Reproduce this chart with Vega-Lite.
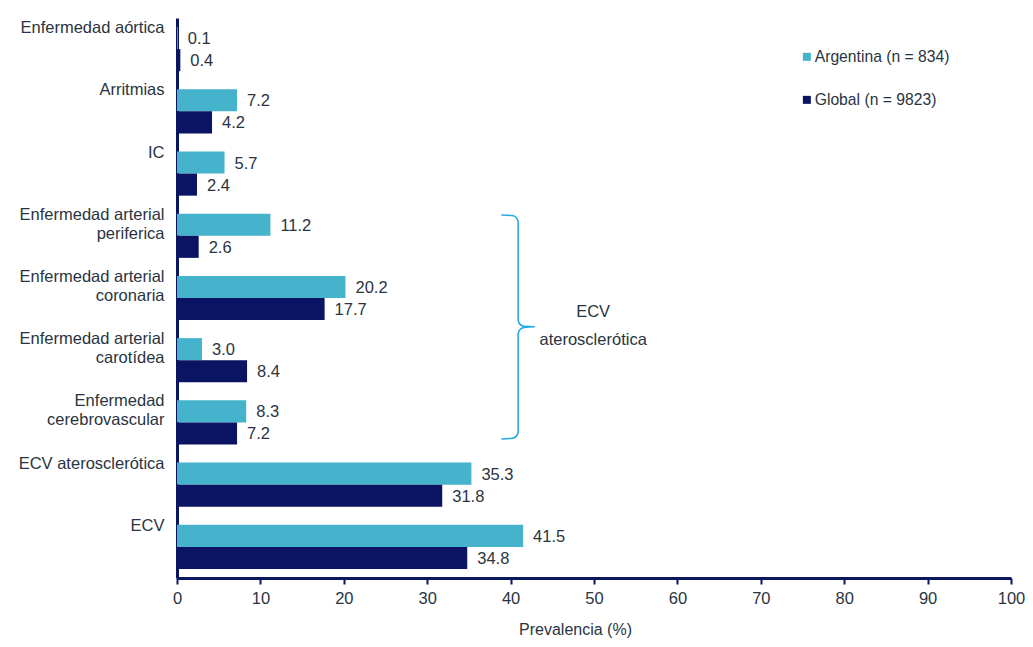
{
  "$schema": "https://vega.github.io/schema/vega-lite/v6.json",
  "width": 834,
  "height": 560,
  "autosize": {"type": "none"},
  "padding": {"left": 177, "top": 18, "right": 22, "bottom": 69},
  "background": "white",
  "config": {
    "view": {"stroke": null},
    "font": "Liberation Sans",
    "axis": {"grid": false, "labelFontSize": 16.5, "labelColor": "#2a3440", "titleFontSize": 16, "titleFontWeight": "normal", "titleColor": "#2a3440"}
  },
  "datasets": {
    "prevalencia": [
      {"categoria": "Enfermedad aórtica", "grupo": "Argentina (n = 834)", "valor": 0.1},
      {"categoria": "Enfermedad aórtica", "grupo": "Global (n = 9823)", "valor": 0.4},
      {"categoria": "Arritmias", "grupo": "Argentina (n = 834)", "valor": 7.2},
      {"categoria": "Arritmias", "grupo": "Global (n = 9823)", "valor": 4.2},
      {"categoria": "IC", "grupo": "Argentina (n = 834)", "valor": 5.7},
      {"categoria": "IC", "grupo": "Global (n = 9823)", "valor": 2.4},
      {"categoria": "Enfermedad arterial|periferica", "grupo": "Argentina (n = 834)", "valor": 11.2},
      {"categoria": "Enfermedad arterial|periferica", "grupo": "Global (n = 9823)", "valor": 2.6},
      {"categoria": "Enfermedad arterial|coronaria", "grupo": "Argentina (n = 834)", "valor": 20.2},
      {"categoria": "Enfermedad arterial|coronaria", "grupo": "Global (n = 9823)", "valor": 17.7},
      {"categoria": "Enfermedad arterial|carotídea", "grupo": "Argentina (n = 834)", "valor": 3.0},
      {"categoria": "Enfermedad arterial|carotídea", "grupo": "Global (n = 9823)", "valor": 8.4},
      {"categoria": "Enfermedad|cerebrovascular", "grupo": "Argentina (n = 834)", "valor": 8.3},
      {"categoria": "Enfermedad|cerebrovascular", "grupo": "Global (n = 9823)", "valor": 7.2},
      {"categoria": "ECV aterosclerótica", "grupo": "Argentina (n = 834)", "valor": 35.3},
      {"categoria": "ECV aterosclerótica", "grupo": "Global (n = 9823)", "valor": 31.8},
      {"categoria": "ECV", "grupo": "Argentina (n = 834)", "valor": 41.5},
      {"categoria": "ECV", "grupo": "Global (n = 9823)", "valor": 34.8}
    ],
    "llave": [
      {"o": 1, "bx": 38.9, "pos": 3.166},
      {"o": 2, "bx": 40.2, "pos": 3.175},
      {"o": 3, "bx": 40.7, "pos": 3.21},
      {"o": 4, "bx": 40.9, "pos": 3.27},
      {"o": 5, "bx": 40.9, "pos": 4.85},
      {"o": 6, "bx": 41.1, "pos": 4.92},
      {"o": 7, "bx": 41.6, "pos": 4.955},
      {"o": 8, "bx": 42.9, "pos": 4.962},
      {"o": 9, "bx": 41.6, "pos": 4.975},
      {"o": 10, "bx": 41.1, "pos": 5.01},
      {"o": 11, "bx": 40.9, "pos": 5.08},
      {"o": 12, "bx": 40.9, "pos": 6.66},
      {"o": 13, "bx": 40.7, "pos": 6.72},
      {"o": 14, "bx": 40.2, "pos": 6.755},
      {"o": 15, "bx": 38.9, "pos": 6.765}
    ],
    "rotulo": [
      {"bx": 49.9, "pos": 4.72, "t": "ECV"},
      {"bx": 49.9, "pos": 5.175, "t": "aterosclerótica"}
    ]
  },
  "layer": [
    {
      "data": {"name": "prevalencia"},
      "encoding": {
        "y": {
          "field": "categoria", "type": "nominal", "sort": null,
          "scale": {"paddingInner": 0.29, "paddingOuter": 0.145},
          "axis": {
            "title": null, "ticks": false, "domainColor": "#0b1660", "domainWidth": 3,
            "labelPadding": 13, "labelBaseline": "top", "labelOffset": -29, "labelLineHeight": 19,
            "labelLimit": 300, "labelExpr": "split(datum.label, '|')"
          }
        },
        "yOffset": {"field": "grupo", "type": "nominal", "sort": null, "scale": {"paddingInner": 0}},
        "x": {
          "field": "valor", "type": "quantitative",
          "scale": {"domain": [0, 100], "nice": false},
          "axis": {
            "title": "Prevalencia (%)", "values": [0, 10, 20, 30, 40, 50, 60, 70, 80, 90, 100],
            "domainColor": "#0b1660", "domainWidth": 3, "tickColor": "#0b1660", "tickWidth": 2, "tickSize": 6,
            "labelFlush": false, "labelPadding": 6, "titlePadding": 15, "titleX": 398, "titleAlign": "center"
          }
        }
      },
      "layer": [
        {
          "mark": {"type": "bar"},
          "encoding": {
            "color": {
              "field": "grupo", "type": "nominal",
              "scale": {"domain": ["Argentina (n = 834)", "Global (n = 9823)"], "range": ["#45b3cb", "#0a1462"]},
              "legend": {
                "orient": "none", "legendX": 622, "legendY": 31, "title": null,
                "symbolType": "square", "symbolSize": 64, "symbolStrokeWidth": 0,
                "labelFontSize": 15.7, "labelColor": "#2a3440", "labelOffset": 0,
                "rowPadding": 26, "padding": 0
              }
            }
          }
        },
        {
          "mark": {"type": "text", "align": "left", "baseline": "middle", "dx": 10, "dy": 1, "fontSize": 16.5, "color": "#2a3440"},
          "encoding": {"text": {"field": "valor", "type": "quantitative", "format": ".1f"}}
        }
      ]
    },
    {
      "encoding": {
        "x": {
          "field": "bx", "type": "quantitative", "scale": {"domain": [0, 100], "nice": false},
          "axis": {
            "title": "Prevalencia (%)", "values": [0, 10, 20, 30, 40, 50, 60, 70, 80, 90, 100],
            "domainColor": "#0b1660", "domainWidth": 3, "tickColor": "#0b1660", "tickWidth": 2, "tickSize": 6,
            "labelFlush": false, "labelPadding": 6, "titlePadding": 15, "titleX": 398, "titleAlign": "center"
          }
        },
        "y": {"field": "pos", "type": "quantitative", "scale": {"domain": [0, 9], "reverse": true, "nice": false, "zero": false}, "axis": null}
      },
      "layer": [
        {
          "data": {"name": "llave"},
          "mark": {"type": "line", "color": "#22abe2", "strokeWidth": 1.6, "interpolate": "monotone"},
          "encoding": {"order": {"field": "o", "type": "quantitative"}}
        },
        {
          "data": {"name": "rotulo"},
          "mark": {"type": "text", "align": "center", "baseline": "middle", "fontSize": 16.5, "color": "#2a3440"},
          "encoding": {"text": {"field": "t", "type": "nominal"}}
        }
      ]
    }
  ],
  "resolve": {"scale": {"y": "independent"}}
}
